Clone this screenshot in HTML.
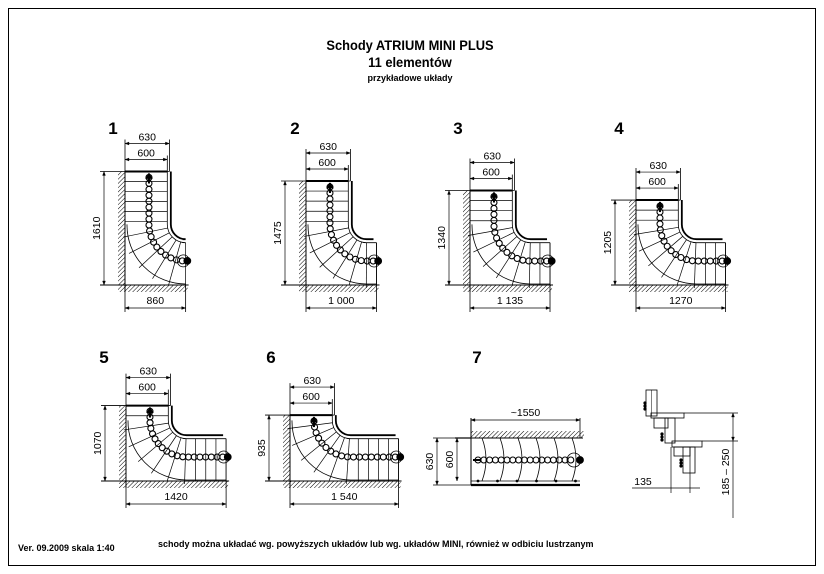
<!DOCTYPE html>
<html><head><meta charset="utf-8"><style>
html,body{margin:0;padding:0;background:#fff;width:824px;height:574px;overflow:hidden}
svg{display:block}
text{font-family:"Liberation Sans",sans-serif;fill:#000}
</style></head><body>
<svg id="s" width="824" height="574" viewBox="0 0 824 574" xmlns="http://www.w3.org/2000/svg">
<defs>
<pattern id="h" width="3" height="3" patternUnits="userSpaceOnUse" patternTransform="rotate(45)">
<line x1="0" y1="0" x2="0" y2="3" stroke="#000" stroke-width="1"/>
</pattern>
</defs>
<rect x="8.5" y="8.5" width="807" height="557" fill="none" stroke="#000" stroke-width="1"/>
<text x="410" y="50" font-size="14" font-weight="bold" text-anchor="middle" transform="translate(410 0) scale(0.92 1) translate(-410 0)">Schody ATRIUM MINI PLUS</text>
<text x="410" y="67" font-size="14" font-weight="bold" text-anchor="middle" transform="translate(410 0) scale(0.92 1) translate(-410 0)">11 elementów</text>
<text x="410" y="81" font-size="9" font-weight="bold" text-anchor="middle">przykładowe układy</text>
<text x="18" y="551" font-size="9" font-weight="bold">Ver. 09.2009 skala 1:40</text>
<text x="158" y="547" font-size="9" font-weight="bold">schody można układać wg. powyższych układów lub wg. układów MINI, również w odbiciu lustrzanym</text>
<g id="g" stroke="#000" fill="none" stroke-width="0.8"></g>
<g id="t"></g>
</svg>
<script>
const NS="http://www.w3.org/2000/svg";
const G=document.getElementById('g'),T=document.getElementById('t');
function el(p,tag,a){const e=document.createElementNS(NS,tag);for(const k in a)e.setAttribute(k,a[k]);p.appendChild(e);return e;}
function L(x1,y1,x2,y2,w){el(G,'line',{x1,y1,x2,y2,'stroke-width':w||0.8});}
function tx(x,y,s,size,rot,bold){const a={x,y,'font-size':size||10.5,'text-anchor':'middle'};if(bold)a['font-weight']='bold';if(rot)a.transform=`rotate(-90 ${x} ${y})`;el(T,'text',a).textContent=s;}
function arrowH(x1,x2,y){L(x1,y,x2,y,0.7);el(G,'path',{d:`M${x1},${y} l4,-1.5 v3z M${x2},${y} l-4,-1.5 v3z`,fill:'#000','stroke-width':0.3});}
function arrowV(x,y1,y2){L(x,y1,x,y2,0.7);el(G,'path',{d:`M${x},${y1} l-1.5,4 h3z M${x},${y2} l-1.5,-4 h3z`,fill:'#000','stroke-width':0.3});}
const s=0.0705;
function stair(num,x0,y1,H,W,lx,ly,lab){
  tx(lx,ly+6,num,17,0,true);
  const top=y1-H*s, xe=x0+W*s;
  el(G,'rect',{x:x0-7,y:top,width:7,height:y1-top,fill:'url(#h)',stroke:'none'});
  el(G,'rect',{x:x0-7,y:y1,width:xe-x0+9,height:7,fill:'url(#h)',stroke:'none'});
  L(x0,top,x0,y1+7,1);L(x0-25,y1,xe+3,y1,1);
  arrowH(x0,x0+630*s,top-28);tx(x0+315*s,top-31,'630');
  arrowH(x0,x0+600*s,top-12);tx(x0+300*s,top-15,'600');
  L(x0,top-32,x0,top);L(x0+630*s,top-32,x0+630*s,top);L(x0+600*s,top-16,x0+600*s,top);
  L(x0-25,top,x0+630*s,top,0.8);
  arrowV(x0-21,top,y1);tx(x0-25,(top+y1)/2,String(H),10.5,1);
  arrowH(x0,xe,y1+23);L(xe,y1,xe,y1+27);L(x0,y1+7,x0,y1+27);
  tx((x0+xe)/2,y1+19,lab);
  L(x0,top,x0+600*s,top,2);
  const cx=x0+860*s, cy=y1-860*s, ri=260*s, ro=860*s, R=520*s;
  const V=(H-860)*s, Hz=(W-860)*s;
  el(G,'path',{d:`M${x0+600*s},${top} V${cy} A${ri},${ri} 0 0 0 ${cx},${cy+ri} H${xe}`});
  const rh=210*s;
  el(G,'path',{d:`M${x0+650*s},${top} V${cy} A${rh},${rh} 0 0 0 ${cx},${cy+rh} H${xe-3}`,'stroke-width':1.8});
  el(G,'path',{d:`M${x0+2},${cy} A${ro-2},${ro-2} 0 0 0 ${cx},${y1-1} H${xe}`});
  if(Hz>0)L(xe,cy+ri,xe,y1);
  const arcL=Math.PI/2*R, tot=V+arcL+Hz, n=11;
  for(let i=0;i<=n;i++){
    const d=tot*(i/n);
    if(d<=V){const y=top+d;L(x0,y,x0+600*s,y,0.7);}
    else if(d<=V+arcL){const th=Math.PI-(d-V)/R;const c=Math.cos(th),sn=Math.sin(th);
      L(cx+ri*c,cy+ri*sn,cx+(ro+3)*c,cy+(ro+3)*sn,0.7);}
    else{const x=cx+(d-V-arcL);L(x,cy+ri,x,y1,0.7);}
  }
  const m=Math.round(tot/6);
  for(let i=0;i<=m;i++){
    const d=tot*(i/m)*0.97;let px,py;
    if(d<=V){px=x0+340*s;py=top+d;}
    else if(d<=V+arcL){const th=Math.PI-(d-V)/R;px=cx+R*Math.cos(th);py=cy+R*Math.sin(th);}
    else{px=cx+(d-V-arcL);py=cy+R;}
    if(i>0)el(G,'circle',{cx:px,cy:py,r:3,'stroke-width':1.1});
    if(i==m){el(G,'circle',{cx:px+1,cy:py,r:6});el(G,'circle',{cx:px+5,cy:py,r:3.5,fill:'#000'});}
  }
  el(G,'path',{d:`M${x0+340*s-3},${top+7} l3,-5 l3,5z`,fill:'#000'});
  L(x0+340*s,top+2,x0+340*s,top+12,2);
}
stair('1',125,285,1610,860,113,128,'860');
stair('2',306,285,1475,1000,295,128,'1 000');
stair('3',470,285,1340,1135,458,128,'1 135');
stair('4',636,285,1205,1270,619,128,'1270');
stair('5',126,481,1070,1420,104,357,'1420');
stair('6',290,481,935,1540,271,357,'1 540');
(function(){
  tx(477,363,'7',17,0,true);
  const x0=471,x1=580,yt=438,yb=481;
  el(G,'rect',{x:x0,y:yt-7,width:x1-x0+4,height:7,fill:'url(#h)',stroke:'none'});
  L(x0,yt,x1+3,yt,1);L(x0,yt-20,x0,yb+4,1);L(x1,yt-20,x1,yt);
  arrowH(x0,x1,yt-18);tx((x0+x1)/2,yt-22,'~1550');
  L(x0,yb,x1,yb,0.8);L(x0,yb+4,x1,yb+4,2.2);
  for(let i=0;i<6;i++)el(G,'circle',{cx:x0+7+i*19.5,cy:yb,r:1,fill:'#000'});
  for(let i=0;i<6;i++){const x=x0+11+i*18;el(G,'path',{d:`M${x},${yt} Q${x+8},${(yt+yb)/2} ${x},${yb}`});}
  L(x0-38,yt,x0,yt);L(x0-38,yb+4,x0,yb+4);L(x0-16,yt,x0,yt,1.2);
  arrowV(x0-34,yt,yb+4);tx(x0-38,(yt+yb)/2+2,'630',10.5,1);
  arrowV(x0-14,yt,yb);tx(x0-18,(yt+yb)/2,'600',10.5,1);
  for(let i=0;i<17;i++)el(G,'circle',{cx:x0+7+i*5.8,cy:460,r:3,'stroke-width':1.1});
  L(x0+2,460,x0+10,460,2);
  el(G,'circle',{cx:574,cy:460,r:7});el(G,'circle',{cx:580,cy:460,r:3.5,fill:'#000'});
})();
(function(){
  el(G,'rect',{x:646,y:390,width:11,height:26});
  L(651.5,390,651.5,416,0.5);
  el(G,'rect',{x:651,y:413,width:33,height:5});
  el(G,'rect',{x:654,y:418,width:14,height:10});
  el(G,'rect',{x:665,y:418,width:10,height:25});
  el(G,'rect',{x:672,y:441,width:30,height:6});
  el(G,'rect',{x:674,y:447,width:16,height:9});
  el(G,'rect',{x:683,y:447,width:12,height:26});
  for(const [x,y] of [[645,403],[662,434],[681,460]])for(let k=0;k<3;k++)el(G,'circle',{cx:x,cy:y+k*3,r:1.2,fill:'#000'});
  L(684,413,738,413,0.7);L(702,441,738,441,0.7);
  arrowV(733,413,441);L(733,441,733,518,0.7);
  tx(729,472,'185 – 250',10.5,1);
  L(671,447,671,493,0.7);L(690,447,690,493,0.7);
  L(632,488,700,488,0.7);tx(643,485,'135');
})();
</script>
</body></html>
